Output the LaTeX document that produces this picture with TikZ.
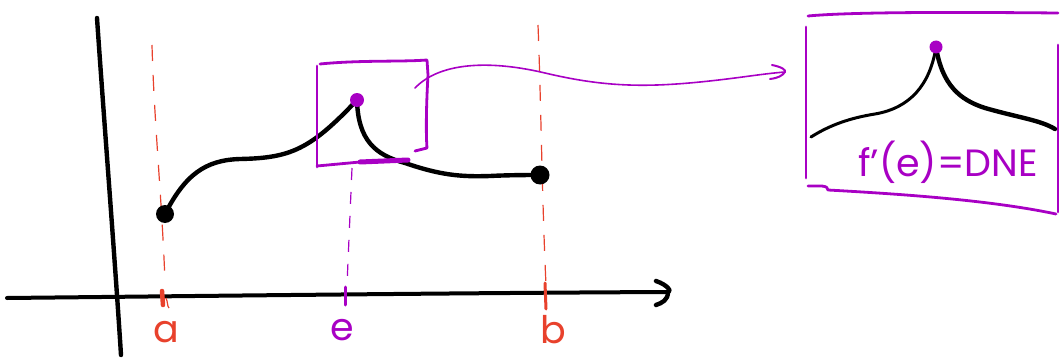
\documentclass[tikz,border=0pt]{standalone}
\usepackage{fontspec}
\setmainfont{Poppins}
\usetikzlibrary{arrows.meta}
\definecolor{pred}{HTML}{E8412C}
\definecolor{ppur}{HTML}{A800C4}
\tikzset{
  blk/.style={line width=4.4pt,line cap=round,line join=round,black},
  redd/.style={pred,line width=1.2pt,dash pattern=on 16pt off 14pt},
  purd/.style={ppur,line width=1.2pt,dash pattern=on 12pt off 12pt},
  pbox/.style={ppur,line width=2.8pt,line cap=round,line join=round},
  lab/.style={font=\fontsize{38}{38}\selectfont}
}
\begin{document}
\begin{tikzpicture}[x=1pt,y=-1pt]
\useasboundingbox (0,0) rectangle (1060,361);
% axes
\coordinate (ytop) at (97,18);
\coordinate (ybot) at (121,355);
\draw[blk] (ytop) .. controls (104,120) and (115,260) .. (ybot);
\coordinate (xl) at (7,298);
\coordinate (xr) at (668,292);
\draw[blk,line width=4pt] (xl) .. controls (200,296) and (450,293) .. (xr);
\draw[blk,line width=4.4pt] (656,281) .. controls (668,285) and (672,292) .. (xr) .. controls (668,300) and (662,303) .. (656,305);
% dashed guides
\coordinate (at) at (152,45);
\coordinate (ab) at (165,282);
\draw[redd] (at) .. controls (154,120) and (162,200) .. (ab);
\coordinate (bt) at (538,25);
\coordinate (bb) at (546,285);
\draw[redd] (bt) .. controls (541,100) and (542,200) .. (bb);
\coordinate (et) at (352,168);
\coordinate (eb) at (347,285);
\draw[purd] (et) -- (eb);
% ticks
\draw[pred,line width=4.5pt,line cap=round] (162,291) -- (163,305);
\draw[pred,line width=1.2pt] (166,298) .. controls (168,302) and (167,306) .. (169,308);
\draw[ppur,line width=3pt,line cap=round] (345,287) -- (345,305);
\draw[pred,line width=3pt,line cap=round] (545,283) -- (546,309);
% labels
\node[lab,text=pred] (la) at (166,332) {a};
\node[lab,text=ppur] (le) at (342,330) {e};
\node[lab,text=pred] (lb) at (553,330) {b};
% main curve
\node[circle,fill=black,inner sep=0pt,minimum size=18pt] (pa) at (165,214) {};
\node[circle,fill=black,inner sep=0pt,minimum size=19pt] (pb) at (540,175) {};
\coordinate (cusp) at (357,100);
\draw[blk] (pa.center) .. controls (185,175) and (205,160) .. (240,159)
  .. controls (290,158) and (310,150) .. (cusp)
  .. controls (358,140) and (375,155) .. (405,163)
  .. controls (440,175) and (460,177) .. (490,176)
  .. controls (510,175) and (530,175) .. (pb.center);
\node[circle,fill=ppur,inner sep=0pt,minimum size=14pt] (pe) at (cusp) {};
% small box
\draw[pbox] (317,66) -- (317,167);
\draw[pbox] (320,64) .. controls (360,60) and (400,62) .. (427,60) -- (428,75) .. controls (426,110) and (426,135) .. (427,148) -- (415,151);
\draw[pbox] (317,166) -- (360,162) ;
\draw[ppur,line width=5pt,line cap=round] (360,162) -- (408,160);
% connecting arrow
\coordinate (arS) at (415,88);
\coordinate (arE) at (785,72);
\draw[ppur,line width=1.6pt,line cap=round] (arS) .. controls (440,62) and (490,60) .. (545,73)
  .. controls (600,86) and (640,88) .. (700,82) .. controls (740,78) and (760,74) .. (arE);
\draw[ppur,line width=2pt,line cap=round,line join=round] (772,65) .. controls (782,67) and (786,70) .. (arE) .. controls (782,76) and (778,78) .. (770,79);
% big box
\draw[pbox] (806,27) -- (806,178);
\draw[pbox] (808,16) .. controls (850,12) and (950,12) .. (1058,13);
\draw[pbox] (808,186) .. controls (820,186) and (828,185) .. (828,190) .. controls (900,194) and (990,200) .. (1056,214);
\draw[pbox] (1058,45) -- (1058,212);
% inner curve
\coordinate (cusp2) at (936,47);
\draw[black,line width=3pt,line cap=round] (811,137) .. controls (830,125) and (850,118) .. (875,114)
  .. controls (910,108) and (930,85) .. (cusp2);
\draw[black,line width=4.4pt,line cap=round] (cusp2) .. controls (942,85) and (960,100) .. (985,108)
  .. controls (1020,118) and (1040,120) .. (1055,129);
\node[circle,fill=ppur,inner sep=0pt,minimum size=13pt] (pe2) at (cusp2) {};
\node[text=ppur,font=\fontsize{38}{38}\selectfont] (txt) at (948,162) {f'(e)=DNE};
\end{tikzpicture}
\end{document}
